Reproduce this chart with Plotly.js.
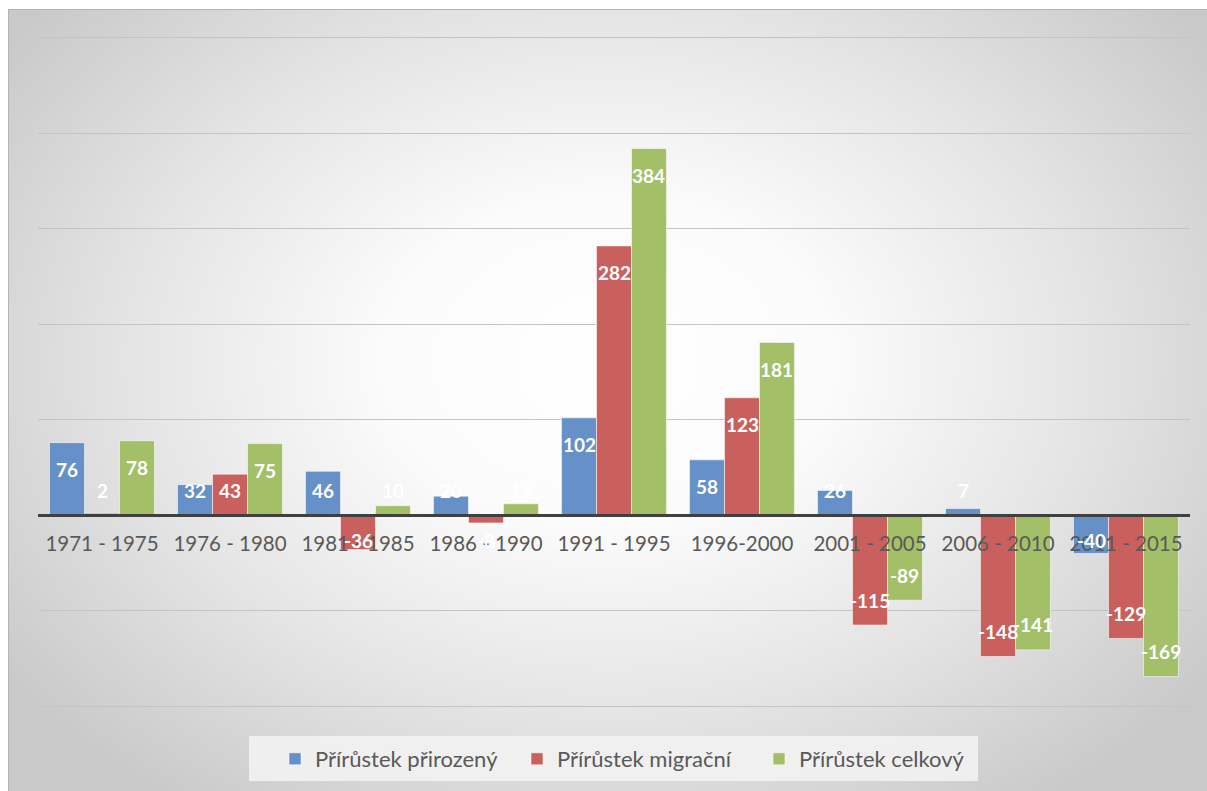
<!DOCTYPE html>
<html>
<head>
<meta charset="utf-8">
<script src="https://cdn.plot.ly/plotly-3.0.1.min.js"></script>
<style>
  html, body { margin: 0; padding: 0; background: #ffffff; }
  #chart {
    position: absolute; left: 8px; top: 9px;
    width: 1198px; height: 781px;
    border-left: 1px solid #b4b4b4; border-top: 1px solid #b4b4b4;
    background: radial-gradient(ellipse 62% 70% at 50% 45%, #ffffff 0%, #fbfbfb 30%, #e4e4e4 65%, #c9c9c9 100%);
  }
</style>
</head>
<body>
<div id="chart"></div>
<script>
const categories = ["1971 - 1975", "1976 - 1980", "1981 - 1985", "1986 - 1990", "1991 - 1995",
                    "1996-2000", "2001 - 2005", "2006 - 2010", "2011 - 2015"];
const seriesNames = ["Přírůstek přirozený", "Přírůstek migrační", "Přírůstek celkový"];
const natural   = [76, 32, 46, 20, 102, 58, 26, 7, -40];
const migration = [2, 43, -36, -8, 282, 123, -115, -148, -129];
const total     = [78, 75, 10, 12, 384, 181, -89, -141, -169];

const colors = ["#6590c8", "#c9605d", "#a3c068"];
const series = [natural, migration, total];
const yRange = [-205, 505];
const bargap = 0.18;

const W = 1198, H = 781;
const margin = {l: 29, r: 17, t: 23, b: 79, pad: 0};
const plotH = H - margin.t - margin.b;
const pxPerUnit = plotH / (yRange[1] - yRange[0]);

const traces = series.map((vals, j) => ({
  type: "bar",
  name: seriesNames[j],
  x: categories,
  y: vals,
  marker: {color: colors[j], line: {color: "rgba(255,255,255,0.55)", width: 1}},
  hoverinfo: "skip"
}));

// data labels (inside end, white bold), kept within the bar side of the zero line
const annotations = [];
const bw = (1 - bargap) / 3;
series.forEach((vals, j) => {
  vals.forEach((v, i) => {
    let y;
    if (v >= 0) y = Math.max(v - 27 / pxPerUnit, 25 / pxPerUnit);
    else y = Math.min(v + 25 / pxPerUnit, -25 / pxPerUnit);
    annotations.push({
      xref: "x", yref: "y",
      x: i + (j - 1) * bw, y: y,
      text: String(v), showarrow: false,
      xanchor: "center", yanchor: "middle",
      font: {family: "Lato, 'Open Sans', sans-serif", size: 19, color: "#ffffff", weight: "bold"}
    });
  });
});

// page pixel -> paper fraction helpers (div origin at page 9,10)
const pf = v => (v - 9 - margin.l) / (W - margin.l - margin.r);
const pv = v => (H - margin.b - (v - 10)) / plotH;

const layout = {
  width: W, height: H,
  margin: margin,
  paper_bgcolor: "rgba(0,0,0,0)",
  plot_bgcolor: "rgba(0,0,0,0)",
  barmode: "group",
  bargap: bargap,
  bargroupgap: 0,
  showlegend: true,
  font: {family: "Lato, 'Open Sans', sans-serif", color: "#595959"},
  xaxis: {
    type: "category",
    anchor: "free",
    position: (0 - yRange[0]) / (yRange[1] - yRange[0]),
    showgrid: false, showline: false, zeroline: false,
    ticks: "", ticklabelstandoff: 14,
    tickfont: {family: "Lato, 'Open Sans', sans-serif", size: 20.5, color: "#595959"},
    fixedrange: true
  },
  yaxis: {
    range: yRange, dtick: 100, tick0: 0,
    showticklabels: false, ticks: "",
    showgrid: true, gridcolor: "#c4c4c4", gridwidth: 1,
    zeroline: true, zerolinecolor: "#404040", zerolinewidth: 3,
    zerolinelayer: "above traces",
    showline: false, fixedrange: true
  },
  legend: {
    orientation: "h",
    x: pf(275), xanchor: "left",
    y: pv(759), yanchor: "middle",
    entrywidth: 197, entrywidthmode: "pixels",
    bgcolor: "rgba(0,0,0,0)",
    font: {family: "Lato, 'Open Sans', sans-serif", size: 22, color: "#595959"},
    itemclick: false, itemdoubleclick: false
  },
  shapes: [{
    type: "rect", xref: "paper", yref: "paper",
    x0: pf(249), x1: pf(978), y0: pv(782), y1: pv(737),
    fillcolor: "rgba(242,242,242,0.9)", line: {width: 0}, layer: "below"
  }],
  annotations: annotations
};

Plotly.newPlot("chart", traces, layout, {displayModeBar: false, staticPlot: true});
</script>
</body>
</html>
